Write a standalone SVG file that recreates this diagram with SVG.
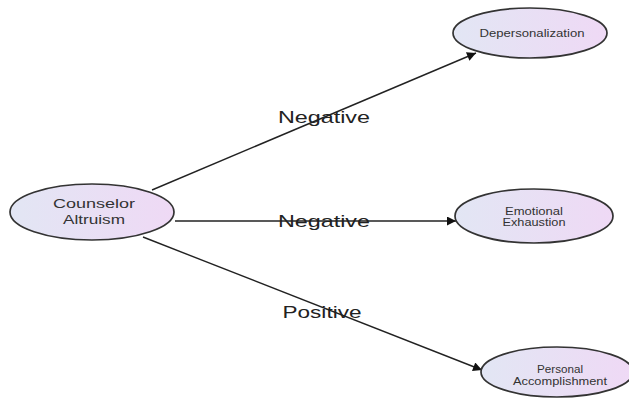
<svg xmlns="http://www.w3.org/2000/svg" width="629" height="403" viewBox="0 0 629 403">
<defs>
<linearGradient id="g" x1="0" y1="0" x2="1" y2="0">
<stop offset="0" stop-color="#e2e6f4"/>
<stop offset="1" stop-color="#efd9f5"/>
</linearGradient>
<marker id="arr" viewBox="0 0 10 10" refX="10" refY="5" markerWidth="16" markerHeight="9" markerUnits="userSpaceOnUse" orient="auto">
<path d="M0,0 L10,5 L0,10 z" fill="#111"/>
</marker>
<style>
.n{fill:url(#g);stroke:#333;stroke-width:1.7}
.t{font-family:"Liberation Sans",Arial,sans-serif;fill:#333;text-anchor:middle}
.c{stroke:#222;stroke-width:1.4;fill:none;marker-end:url(#arr)}
.l{font-family:"Liberation Sans",Arial,sans-serif;fill:#222;font-size:17px;text-anchor:middle}
</style>
</defs>
<rect width="629" height="403" fill="#fff"/>
<g id="connectors">
<line class="c" x1="152" y1="190" x2="476" y2="53"/>
<line class="c" x1="175" y1="221" x2="456" y2="221"/>
<line class="c" x1="143" y1="237" x2="482" y2="370"/>
<text class="l" x="324" y="123" textLength="92" lengthAdjust="spacingAndGlyphs">Negative</text>
<text class="l" x="324" y="227" textLength="92" lengthAdjust="spacingAndGlyphs">Negative</text>
<text class="l" x="322" y="318" textLength="79" lengthAdjust="spacingAndGlyphs">Positive</text>
</g>
<g id="counselor">
<ellipse class="n" cx="92" cy="212" rx="82" ry="28"/>
<text class="t" font-size="13" x="94" y="208" textLength="82" lengthAdjust="spacingAndGlyphs">Counselor</text>
<text class="t" font-size="13" x="94" y="224" textLength="62" lengthAdjust="spacingAndGlyphs">Altruism</text>
</g>
<g id="depersonalization">
<ellipse class="n" cx="530" cy="33" rx="77" ry="25"/>
<text class="t" font-size="10" x="532" y="37" textLength="105" lengthAdjust="spacingAndGlyphs">Depersonalization</text>
</g>
<g id="exhaustion">
<ellipse class="n" cx="534" cy="216" rx="79" ry="27"/>
<text class="t" font-size="10" x="534" y="215" textLength="58" lengthAdjust="spacingAndGlyphs">Emotional</text>
<text class="t" font-size="10" x="534" y="226" textLength="63" lengthAdjust="spacingAndGlyphs">Exhaustion</text>
</g>
<g id="accomplishment">
<ellipse class="n" cx="557" cy="372" rx="76" ry="25"/>
<text class="t" font-size="10" x="560" y="373" textLength="46" lengthAdjust="spacingAndGlyphs">Personal</text>
<text class="t" font-size="10" x="560" y="385" textLength="94" lengthAdjust="spacingAndGlyphs">Accomplishment</text>
</g>
</svg>
